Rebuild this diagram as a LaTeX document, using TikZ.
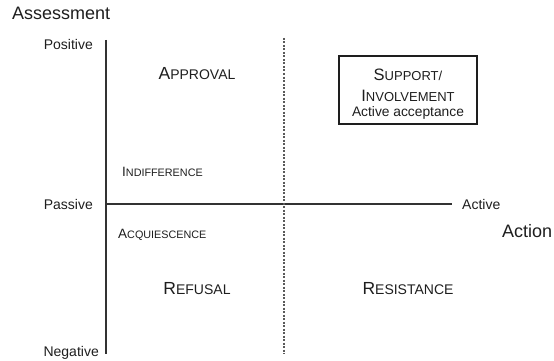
\documentclass[tikz,border=0pt]{standalone}
\usepackage{fontspec}
\setmainfont{Liberation Sans}
\usepackage{tikz}
\usetikzlibrary{positioning}
\definecolor{InkGray}{RGB}{30,30,30}
\definecolor{AxisGray}{RGB}{50,50,50}
\definecolor{DashGray}{RGB}{90,90,90}
% fake small caps: first letter full size, rest smaller
\newcommand{\scbig}[2]{{\fontsize{17.5pt}{21pt}\selectfont#1\fontsize{14pt}{17pt}\selectfont#2}}
\newcommand{\scbox}[2]{{\fontsize{16.5pt}{20pt}\selectfont#1\fontsize{13pt}{16pt}\selectfont#2}}
\newcommand{\scsmall}[2]{{\fontsize{13.5pt}{16pt}\selectfont#1\fontsize{10.8pt}{13pt}\selectfont#2}}
\tikzset{
  axis/.style={line width=1.1pt, AxisGray},
  midline/.style={line width=1.3pt, DashGray, dash pattern=on 2pt off 1.5pt},
  axistitle/.style={font=\fontsize{18pt}{21pt}\selectfont, text=InkGray, inner sep=0pt},
  ticklab/.style={font=\fontsize{14pt}{16pt}\selectfont, text=InkGray, inner sep=0pt},
  quadlab/.style={text=InkGray, inner sep=0pt},
  framebox/.style={draw=InkGray, line width=1.3pt, text=InkGray, align=center,
    font=\fontsize{16.5pt}{20pt}\selectfont,
    minimum width=138pt, minimum height=68pt, inner sep=0pt},
}
\begin{document}
\begin{tikzpicture}[x=1pt, y=-1pt]
  \useasboundingbox (0,0) rectangle (554,361);
  % axes
  \coordinate (ytop) at (106,40);
  \coordinate (ybot) at (106,354);
  \coordinate (orig) at (106,204);
  \coordinate (xend) at (452,204);
  \coordinate (mtop) at (284,38);
  \coordinate (mbot) at (284,354);
  \draw[axis] (ytop) -- (ybot);
  \draw[axis] (orig) -- (xend);
  \draw[midline] (mtop) -- (mbot);
  % axis labels
  \node[axistitle, anchor=base west] (assess) at (12,20) {Assessment};
  \node[axistitle, anchor=base west] (action) at (502,237) {Action};
  \node[ticklab, anchor=base east] (pos) at (93,50) {Positive};
  \node[ticklab, anchor=base east] (pas) at (93,209) {Passive};
  \node[ticklab, anchor=base east] (neg) at (99,356) {Negative};
  \node[ticklab, anchor=base west] (act) at (462,209) {Active};
  % quadrants
  \node[quadlab, anchor=base] (approval) at (197,79) {\scbig{A}{PPROVAL}};
  \node[quadlab, anchor=base west] (indiff) at (122,176) {\scsmall{I}{NDIFFERENCE}};
  \node[quadlab, anchor=base west] (acquies) at (118,238) {\scsmall{A}{CQUIESCENCE}};
  \node[quadlab, anchor=base] (refusal) at (197,294) {\scbig{R}{EFUSAL}};
  \node[quadlab, anchor=base] (resist) at (408,294) {\scbig{R}{ESISTANCE}};
  \node[framebox] (support) at (408,90) {\rule{0pt}{20pt}\scbox{S}{UPPORT/}\\[1pt]
    \scbox{I}{NVOLVEMENT}\\[-5pt]
    {\fontsize{13.8pt}{16pt}\selectfont Active acceptance}};
\end{tikzpicture}
\end{document}
